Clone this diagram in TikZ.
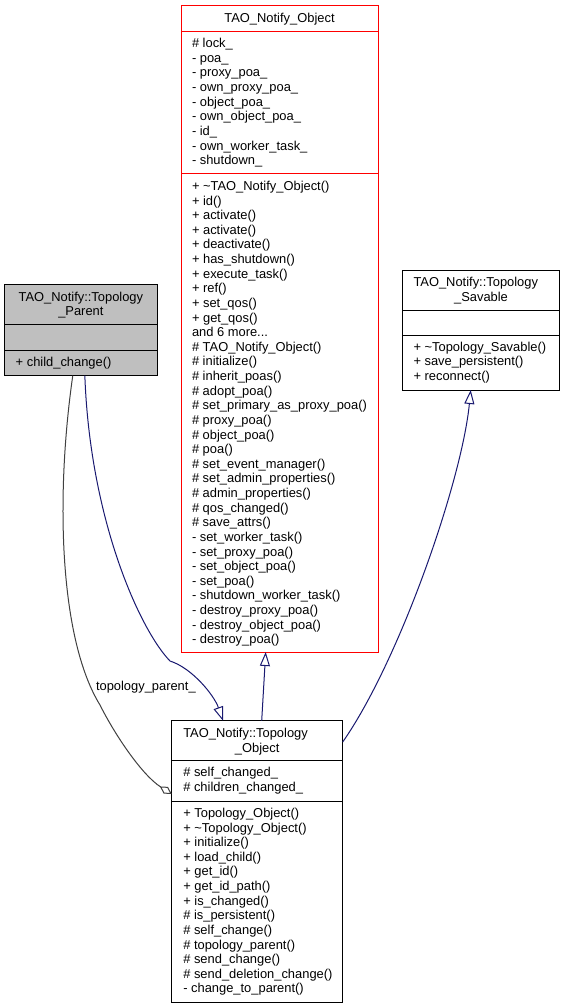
\documentclass[tikz,border=0pt]{standalone}
\usepackage{fontspec}
\setmainfont{Liberation Sans}
\usetikzlibrary{arrows.meta}
\definecolor{navyline}{HTML}{191970}
\definecolor{grayline}{HTML}{404040}
\definecolor{redline}{HTML}{FF0000}
\definecolor{parentfill}{HTML}{BFBFBF}
\newcommand\mydots{...}
\begin{document}
\begin{tikzpicture}[x=1pt,y=-1pt,
  txt/.style={inner sep=0pt, outer sep=0pt, anchor=base west, font=\fontsize{12.9pt}{14.6pt}\selectfont},
  ctxt/.style={txt, anchor=base},
  boxst/.style={draw=black, line width=1pt, inner sep=0pt, outer sep=0pt, anchor=north west},
  inherit/.style={draw=navyline, line width=1pt, -{Triangle[open, length=14pt, width=10pt]}},
  aggr/.style={draw=grayline, line width=1pt, -{Diamond[open, length=14pt, width=8pt]}}
]
\useasboundingbox (0,0) rectangle (565,1008);
\fill[white] (0,0) rectangle (565,1008);

% ---------- TAO_Notify_Object ----------
\node[boxst, draw=redline, minimum width=197pt, minimum height=646pt] (NO) at (181,6) {};
\draw[redline, line width=1pt] (181,32) -- (378,32);
\draw[redline, line width=1pt] (181,174) -- (378,174);
\node[ctxt] (notitle) at (279.5,22.8) {TAO\_Notify\_Object};
\foreach \t [count=\i] in {\# lock\_, - poa\_, - proxy\_poa\_, - own\_proxy\_poa\_, - object\_poa\_, - own\_object\_poa\_, - id\_, - own\_worker\_task\_, - shutdown\_}
  \node[txt] (noa\i) at (192,{47.5+(\i-1)*14.65}) {\t};
\foreach \t [count=\i] in {+ \textasciitilde TAO\_Notify\_Object(), + id(), + activate(), + activate(), + deactivate(), + has\_shutdown(), + execute\_task(), + ref(), + set\_qos(), + get\_qos(), and 6 more\mydots, \# TAO\_Notify\_Object(), \# initialize(), \# inherit\_poas(), \# adopt\_poa(), \# set\_primary\_as\_proxy\_poa(), \# proxy\_poa(), \# object\_poa(), \# poa(), \# set\_event\_manager(), \# set\_admin\_properties(), \# admin\_properties(), \# qos\_changed(), \# save\_attrs(), - set\_worker\_task(), - set\_proxy\_poa(), - set\_object\_poa(), - set\_poa(), - shutdown\_worker\_task(), - destroy\_proxy\_poa(), - destroy\_object\_poa(), - destroy\_poa()}
  \node[txt] (nom\i) at (192,{190.5+(\i-1)*14.62}) {\t};

% ---------- TAO_Notify::Topology_Parent ----------
\node[boxst, fill=parentfill, minimum width=152.3pt, minimum height=91pt] (TP) at (4.7,284.7) {};
\draw[line width=1pt] (4.7,324.3) -- (157,324.3);
\draw[line width=1pt] (4.7,350.7) -- (157,350.7);
\node[ctxt] (tpt1) at (80.85,301.3) {TAO\_Notify::Topology};
\node[ctxt] (tpt2) at (80.85,315.9) {\_Parent};
\node[txt] (tpm1) at (15.7,366) {+ child\_change()};

% ---------- TAO_Notify::Topology_Savable ----------
\node[boxst, minimum width=157pt, minimum height=120pt] (TS) at (402.5,270) {};
\draw[line width=1pt] (402.5,310) -- (559.5,310);
\draw[line width=1pt] (402.5,335.7) -- (559.5,335.7);
\node[txt] (tst1) at (413.5,286.8) {TAO\_Notify::Topology};
\node[ctxt] (tst2) at (481,301.4) {\_Savable};
\foreach \t [count=\i] in {+ \textasciitilde Topology\_Savable(), + save\_persistent(), + reconnect()}
  \node[txt] (tsm\i) at (413.5,{351+(\i-1)*14.62}) {\t};

% ---------- TAO_Notify::Topology_Object ----------
\node[boxst, minimum width=171pt, minimum height=281.6pt] (TO) at (171.7,720.7) {};
\draw[line width=1pt] (171.7,760.7) -- (342.7,760.7);
\draw[line width=1pt] (171.7,801) -- (342.7,801);
\node[txt] (tot1) at (183.3,737.5) {TAO\_Notify::Topology};
\node[ctxt] (tot2) at (257.2,752.1) {\_Object};
\foreach \t [count=\i] in {\# self\_changed\_, \# children\_changed\_}
  \node[txt] (toa\i) at (183.3,{776.5+(\i-1)*14.62}) {\t};
\foreach \t [count=\i] in {+ Topology\_Object(), + \textasciitilde Topology\_Object(), + initialize(), + load\_child(), + get\_id(), + get\_id\_path(), + is\_changed(), \# is\_persistent(), \# self\_change(), \# topology\_parent(), \# send\_change(), \# send\_deletion\_change(), - change\_to\_parent()}
  \node[txt] (tom\i) at (183.3,{817.5+(\i-1)*14.62}) {\t};

% ---------- connectors ----------
% Topology_Parent -> Topology_Object (inheritance)
\draw[inherit] ([xshift=4pt]TP.south) .. controls (90,520) and (140,630) .. (170,661)
  .. controls (192,668) and (214,695) .. ([xshift=-34.2pt]TO.north);
% TAO_Notify_Object -> Topology_Object (inheritance)
\draw[inherit] ([xshift=4.5pt]TO.north) -- ([xshift=-13.8pt]NO.south);
% Topology_Savable -> Topology_Object (inheritance)
\draw[inherit] ([yshift=-21.3pt]TO.north east) .. controls (400,660) and (462,480) .. ([xshift=-10.3pt]TS.south);
% Topology_Parent -> Topology_Object (aggregation)
\draw[aggr] ([xshift=-8.1pt]TP.south) .. controls (55,500) and (60,640) .. (100,705)
  .. controls (115,735) and (142,775) .. ([yshift=-73.3pt]TO.north west);
\node[txt] (lbl) at (96,690.7) {topology\_parent\_};
\end{tikzpicture}
\end{document}
